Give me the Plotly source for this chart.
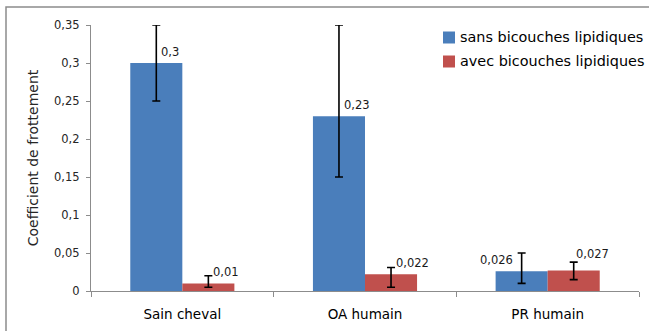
import plotly.graph_objects as go

categories = ["Sain cheval", "OA humain", "PR humain"]
series_names = ["sans bicouches lipidiques", "avec bicouches lipidiques"]
sans_values = [0.3, 0.23, 0.026]
sans_err_plus = [0.05, 0.12, 0.024]
sans_err_minus = [0.05, 0.08, 0.016]
avec_values = [0.01, 0.022, 0.027]
avec_err_plus = [0.01, 0.009, 0.011]
avec_err_minus = [0.005, 0.017, 0.012]
sans_labels = ["0,3", "0,23", "0,026"]
avec_labels = ["0,01", "0,022", "0,027"]

BLUE = "#4A7EBB"
RED = "#C0504D"
FONT = "DejaVu Sans"
BARGAP = 0.43

W, H = 649, 331
ML, MR, MT, MB = 91, 10, 25, 40
PW, PH = W - ML - MR, H - MT - MB


def px_x(px):
    """Horizontal pixel position -> paper coordinate."""
    return (px - ML) / PW


def px_y(py):
    """Vertical pixel position (from top) -> paper coordinate."""
    return (H - MB - py) / PH


fig = go.Figure()
colors = [BLUE, RED]
for name, vals, ep, em, color in [
    (series_names[0], sans_values, sans_err_plus, sans_err_minus, BLUE),
    (series_names[1], avec_values, avec_err_plus, avec_err_minus, RED),
]:
    fig.add_trace(go.Bar(
        x=categories, y=vals, name=name, marker_color=color,
        marker_line_width=0,
        error_y=dict(type="data", symmetric=False, array=ep, arrayminus=em,
                     color="black", thickness=1.6, width=4),
    ))

# value labels placed just right of each bar's centre, above its top
half = (1 - BARGAP) / 4
annotations = []
for s, (vals, labels) in enumerate([(sans_values, sans_labels), (avec_values, avec_labels)]):
    off = -half if s == 0 else half
    for i, (v, t) in enumerate(zip(vals, labels)):
        xanchor, xshift, yshift = "left", 3, 2
        if s == 0 and i == 2:
            xanchor, xshift = "right", -7
        if s == 1 and i == 2:
            xshift, yshift = 0, 7
        annotations.append(dict(
            x=i + off, y=v, xref="x", yref="y", text=t, showarrow=False,
            xanchor=xanchor, yanchor="bottom", xshift=xshift, yshift=yshift,
            font=dict(family=FONT, size=11.5, color="#1a1a1a"),
        ))

# legend: colour square + series name, one row per series
shapes = [dict(
    type="rect", xref="paper", yref="paper",
    x0=px_x(6), x1=1.3, y0=-0.3, y1=px_y(7),
    line=dict(color="#8c8c8c", width=1.5), layer="below",
)]
for k, (name, color) in enumerate(zip(series_names, colors)):
    cy = 37.5 + 24 * k
    shapes.append(dict(
        type="rect", xref="paper", yref="paper",
        x0=px_x(443), x1=px_x(455), y0=px_y(cy + 6), y1=px_y(cy - 6),
        fillcolor=color, line=dict(width=0),
    ))
    annotations.append(dict(
        x=px_x(458), y=px_y(cy), xref="paper", yref="paper", text=name,
        showarrow=False, xanchor="left", yanchor="middle",
        font=dict(family=FONT, size=14.4, color="black"),
    ))

fig.update_layout(
    width=W, height=H,
    margin=dict(l=ML, r=MR, t=MT, b=MB),
    paper_bgcolor="white", plot_bgcolor="white",
    barmode="group", bargap=BARGAP, bargroupgap=0,
    separators=", ",
    showlegend=False,
    font=dict(family=FONT, color="#262626"),
    annotations=annotations,
    shapes=shapes,
)
fig.update_xaxes(
    showline=True, linecolor="#8c8c8c", linewidth=1.3,
    ticks="outside", tickson="boundaries", ticklen=5, tickcolor="#8c8c8c",
    ticklabelstandoff=11,
    tickfont=dict(family=FONT, size=13.5, color="black"),
    showgrid=False,
)
fig.update_yaxes(
    range=[0, 0.35], dtick=0.05, tick0=0,
    showline=True, linecolor="#8c8c8c", linewidth=1.3,
    ticks="outside", ticklen=4, tickcolor="#8c8c8c",
    ticklabelstandoff=4,
    tickfont=dict(family=FONT, size=11.5, color="#262626"),
    showgrid=False, zeroline=False,
    title=dict(text="Coefficient de frottement", standoff=12,
               font=dict(family=FONT, size=14, color="#262626")),
)

fig.write_html("out.html")
